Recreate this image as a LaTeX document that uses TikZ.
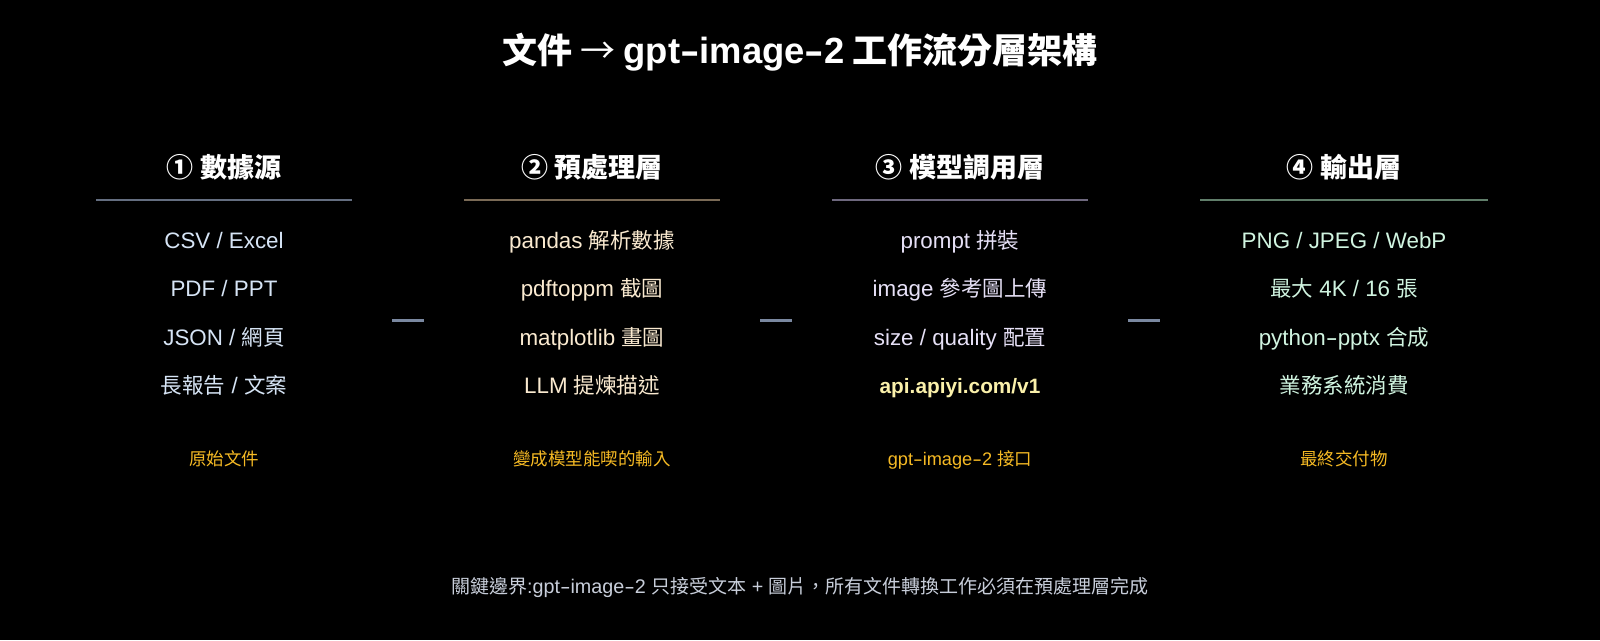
\documentclass[tikz,border=0pt]{standalone}
\usepackage{fontspec}
\usepackage{graphicx}
\setmainfont{Liberation Sans}[Scale=1.04]
\newfontfamily\zhfont{Noto Sans CJK TC}
\newcommand\zhtxt[1]{{\zhfont #1}}
\newcommand\lhy{\scalebox{1.6}[1]{-}}
\definecolor{bgc}{RGB}{0,0,0}
\definecolor{lineA}{RGB}{100,110,128}
\definecolor{lineB}{RGB}{122,106,86}
\definecolor{lineC}{RGB}{110,104,126}
\definecolor{lineD}{RGB}{96,126,106}
\definecolor{dashc}{RGB}{122,136,160}
\definecolor{itemA}{RGB}{214,228,245}
\definecolor{itemB}{RGB}{250,234,208}
\definecolor{itemC}{RGB}{230,224,246}
\definecolor{itemD}{RGB}{208,244,224}
\definecolor{apic}{RGB}{250,240,170}
\definecolor{subc}{RGB}{246,186,36}
\definecolor{notec}{RGB}{200,206,218}
\begin{document}
\begin{tikzpicture}[x=1pt,y=-1pt,
  every node/.style={inner sep=0pt, outer sep=0pt, anchor=base},
  titletext/.style={font=\fontsize{35}{40}\selectfont\bfseries, text=white},
  headtext/.style={font=\fontsize{27}{32}\selectfont\bfseries, text=white},
  itemtext/.style={font=\fontsize{21.5}{25}\selectfont},
  subtext/.style={font=\fontsize{17.5}{21}\selectfont, text=subc},
  notetext/.style={font=\fontsize{19}{23}\selectfont, text=notec},
  rulebar/.style={line width=2pt},
  linkbar/.style={line width=3pt, dashc}
]
\fill[bgc] (0,0) rectangle (1600,640);
\useasboundingbox (0,0) rectangle (1600,640);

\node[titletext] (title) at (800,63) {\zhtxt{文件 {\mdseries →} }gpt\lhy image\lhy 2\zhtxt{ 工作流分層架構}};

% column 1
\node[headtext] (h1) at (224,177) {\zhtxt{① 數據源}};
\coordinate (r1a) at (96,200); \coordinate (r1b) at (352,200);
\draw[rulebar, lineA] (r1a) -- (r1b);
\node[itemtext, text=itemA] (a1) at (224,248) {CSV / Excel};
\node[itemtext, text=itemA] (a2) at (224,296) {PDF / PPT};
\node[itemtext, text=itemA] (a3) at (224,345) {JSON / \zhtxt{網頁}};
\node[itemtext, text=itemA] (a4) at (224,393) {\zhtxt{長報告} / \zhtxt{文案}};
\node[subtext] (s1) at (224,465) {\zhtxt{原始文件}};

% column 2
\node[headtext] (h2) at (592,177) {\zhtxt{② 預處理層}};
\coordinate (r2a) at (464,200); \coordinate (r2b) at (720,200);
\draw[rulebar, lineB] (r2a) -- (r2b);
\node[itemtext, text=itemB] (b1) at (592,248) {pandas \zhtxt{解析數據}};
\node[itemtext, text=itemB] (b2) at (592,296) {pdftoppm \zhtxt{截圖}};
\node[itemtext, text=itemB] (b3) at (592,345) {matplotlib \zhtxt{畫圖}};
\node[itemtext, text=itemB] (b4) at (592,393) {LLM \zhtxt{提煉描述}};
\node[subtext] (s2) at (592,465) {\zhtxt{變成模型能喫的輸入}};

% column 3
\node[headtext] (h3) at (960,177) {\zhtxt{③ 模型調用層}};
\coordinate (r3a) at (832,200); \coordinate (r3b) at (1088,200);
\draw[rulebar, lineC] (r3a) -- (r3b);
\node[itemtext, text=itemC] (c1) at (960,248) {prompt \zhtxt{拼裝}};
\node[itemtext, text=itemC] (c2) at (960,296) {image \zhtxt{參考圖上傳}};
\node[itemtext, text=itemC] (c3) at (960,345) {size / quality \zhtxt{配置}};
\node[itemtext, text=apic, font=\fontsize{20}{24}\selectfont\bfseries] (c4) at (960,393) {api.apiyi.com/v1};
\node[subtext] (s3) at (960,465) {gpt\lhy image\lhy 2 \zhtxt{接口}};

% column 4
\node[headtext] (h4) at (1344,177) {\zhtxt{④ 輸出層}};
\coordinate (r4a) at (1200,200); \coordinate (r4b) at (1488,200);
\draw[rulebar, lineD] (r4a) -- (r4b);
\node[itemtext, text=itemD] (d1) at (1344,248) {PNG / JPEG / WebP};
\node[itemtext, text=itemD] (d2) at (1344,296) {\zhtxt{最大} 4K / 16 \zhtxt{張}};
\node[itemtext, text=itemD] (d3) at (1344,345) {python\lhy pptx \zhtxt{合成}};
\node[itemtext, text=itemD] (d4) at (1344,393) {\zhtxt{業務系統消費}};
\node[subtext] (s4) at (1344,465) {\zhtxt{最終交付物}};

% links between columns
\coordinate (k1a) at (392,320); \coordinate (k1b) at (424,320);
\coordinate (k2a) at (760,320); \coordinate (k2b) at (792,320);
\coordinate (k3a) at (1128,320); \coordinate (k3b) at (1160,320);
\draw[linkbar] (k1a) -- (k1b);
\draw[linkbar] (k2a) -- (k2b);
\draw[linkbar] (k3a) -- (k3b);

\node[notetext] (note) at (800,593) {\zhtxt{關鍵邊界}:gpt\lhy image\lhy 2 \zhtxt{只接受文本} + \zhtxt{圖片，所有文件轉換工作必須在預處理層完成}};
\end{tikzpicture}
\end{document}
